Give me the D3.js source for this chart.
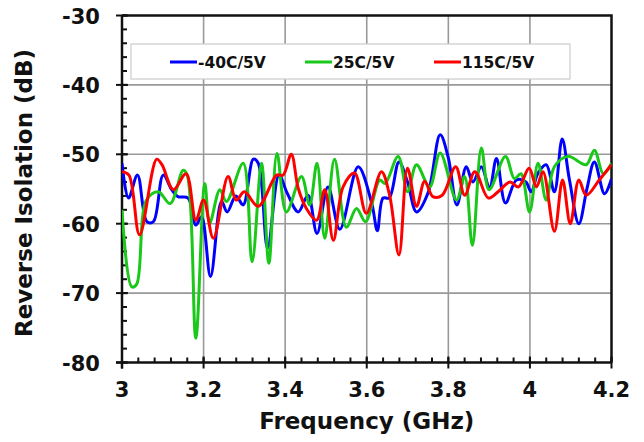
<!DOCTYPE html>
<html>
<head>
<meta charset="utf-8">
<script src="https://cdn.jsdelivr.net/npm/d3@7"></script>
<style>
  html, body { margin: 0; padding: 0; background: #fff; }
  svg { display: block; font-family: "DejaVu Sans", Verdana, sans-serif; font-weight: bold; }
</style>
</head>
<body>
<svg id="chart"></svg>
<script>
const width = 644;
const height = 442;

// series names and colours
const seriesNames = ["-40C/5V", "25C/5V", "115C/5V"];
const seriesColors = ["#0000ff", "#19c819", "#ff0000"];

// -40C/5V
const freqM40 = [3.000, 3.016, 3.038, 3.061, 3.077, 3.101, 3.122, 3.137, 3.162, 3.181, 3.195, 3.217, 3.244, 3.258, 3.279, 3.297, 3.322, 3.334, 3.357, 3.385, 3.405, 3.432, 3.456, 3.478, 3.505, 3.534, 3.579, 3.612, 3.626, 3.640, 3.655, 3.679, 3.700, 3.722, 3.750, 3.780, 3.800, 3.821, 3.844, 3.860, 3.881, 3.901, 3.918, 3.940, 3.967, 3.990, 4.003, 4.020, 4.040, 4.060, 4.079, 4.097, 4.120, 4.140, 4.158, 4.183, 4.200];
const dbM40 = [-51.3, -56.3, -53.0, -59.7, -59.7, -53.0, -55.1, -56.1, -56.3, -60.2, -59.0, -67.6, -56.8, -58.3, -56.0, -57.3, -50.7, -51.3, -63.5, -53.0, -55.6, -58.3, -55.9, -61.4, -54.7, -60.8, -51.8, -57.0, -61.0, -56.3, -56.3, -51.1, -54.0, -58.3, -55.6, -47.2, -50.5, -57.3, -51.8, -54.0, -51.8, -54.9, -50.6, -57.0, -53.7, -54.0, -55.4, -52.7, -51.5, -55.4, -47.8, -53.7, -60.0, -54.9, -51.1, -55.7, -53.5];

// 25C/5V
const freq25 = [3.000, 3.024, 3.036, 3.060, 3.089, 3.118, 3.150, 3.160, 3.181, 3.203, 3.215, 3.240, 3.256, 3.297, 3.319, 3.342, 3.360, 3.380, 3.403, 3.440, 3.460, 3.478, 3.497, 3.521, 3.550, 3.575, 3.597, 3.632, 3.645, 3.677, 3.700, 3.722, 3.754, 3.780, 3.820, 3.840, 3.859, 3.881, 3.900, 3.940, 3.962, 3.978, 3.999, 4.020, 4.040, 4.060, 4.093, 4.138, 4.158, 4.180, 4.200];
const db25 = [-58.0, -69.1, -68.7, -56.6, -55.4, -57.1, -52.3, -53.0, -76.5, -54.2, -59.9, -55.1, -56.8, -51.3, -65.5, -51.3, -65.7, -49.9, -58.3, -53.2, -57.3, -51.3, -62.1, -50.7, -60.5, -57.8, -59.7, -53.7, -54.2, -50.3, -55.4, -51.5, -54.7, -49.8, -56.6, -53.2, -63.1, -49.1, -55.1, -50.3, -53.5, -52.8, -58.3, -51.3, -56.6, -51.8, -50.3, -51.5, -49.4, -52.8, -51.3];

// 115C/5V
const freq115 = [3.000, 3.017, 3.043, 3.085, 3.098, 3.126, 3.157, 3.181, 3.200, 3.224, 3.260, 3.280, 3.300, 3.334, 3.379, 3.395, 3.415, 3.432, 3.452, 3.477, 3.497, 3.518, 3.542, 3.570, 3.599, 3.636, 3.656, 3.679, 3.700, 3.722, 3.742, 3.762, 3.785, 3.818, 3.840, 3.865, 3.898, 3.922, 3.951, 3.972, 3.998, 4.016, 4.032, 4.060, 4.080, 4.099, 4.120, 4.138, 4.170, 4.200];
const db115 = [-52.5, -53.0, -61.6, -50.7, -51.5, -55.1, -52.8, -59.5, -56.6, -62.1, -53.2, -56.6, -55.4, -57.5, -53.0, -53.0, -50.0, -54.9, -57.8, -59.5, -55.1, -62.4, -54.7, -52.7, -58.5, -52.5, -55.9, -64.5, -52.0, -57.5, -53.9, -56.1, -55.9, -51.8, -55.9, -52.5, -56.3, -55.4, -54.0, -54.7, -52.0, -54.7, -52.5, -61.1, -53.7, -60.0, -53.7, -55.9, -53.7, -51.5];

const xTicks = [3, 3.2, 3.4, 3.6, 3.8, 4, 4.2];
const yTicks = [-80, -70, -60, -50, -40, -30];

const margins = { top: 15.5, right: 32.5, bottom: 79.5, left: 122 };

const x = d3.scaleLinear()
  .domain([3, 4.2])
  .range([margins.left, width - margins.right]);

const y = d3.scaleLinear()
  .domain([-80, -30])
  .range([height - margins.bottom, margins.top]);

const svg = d3.select("#chart")
  .attr("width", width)
  .attr("height", height)
  .attr("viewBox", `0 0 ${width} ${height}`);

//* grid
const grid = svg.append("g").attr("stroke", "#999").attr("stroke-width", 1.6);
grid.selectAll(".gx").data(xTicks.slice(1, -1)).join("line")
  .attr("x1", d => x(d)).attr("x2", d => x(d))
  .attr("y1", y(-80)).attr("y2", y(-30));
grid.selectAll(".gy").data(yTicks.slice(1, -1)).join("line")
  .attr("x1", x(3)).attr("x2", x(4.2))
  .attr("y1", d => y(d)).attr("y2", d => y(d));

//* frame (top, right)
svg.append("path")
  .attr("d", `M${x(3)},${y(-30)}H${x(4.2)}V${y(-80)}`)
  .attr("fill", "none")
  .attr("stroke", "#111")
  .attr("stroke-width", 2.5);

//* axes with inward minor ticks
const xMinor = d3.range(3, 4.2001, 0.04);
const yMinor = d3.range(-80, -29.99, 2);

const xAxis = svg.append("g").attr("stroke", "#111").attr("stroke-width", 2);
xAxis.append("line")
  .attr("x1", x(3) - 6).attr("x2", x(4.2))
  .attr("y1", y(-80)).attr("y2", y(-80)).attr("stroke-width", 2.5);
xAxis.selectAll(".mn").data(xMinor).join("line")
  .attr("x1", d => x(d)).attr("x2", d => x(d))
  .attr("y1", y(-80)).attr("y2", y(-80) - 5);
xAxis.selectAll(".mj").data(xTicks).join("line")
  .attr("x1", d => x(d)).attr("x2", d => x(d))
  .attr("y1", y(-80) + 6).attr("y2", y(-80) - 6);

const yAxis = svg.append("g").attr("stroke", "#111").attr("stroke-width", 2);
yAxis.append("line")
  .attr("x1", x(3)).attr("x2", x(3))
  .attr("y1", y(-80) + 6).attr("y2", y(-30)).attr("stroke-width", 2.5);
yAxis.selectAll(".mn").data(yMinor).join("line")
  .attr("x1", x(3)).attr("x2", x(3) + 5)
  .attr("y1", d => y(d)).attr("y2", d => y(d));
yAxis.selectAll(".mj").data(yTicks).join("line")
  .attr("x1", x(3) - 6).attr("x2", x(3) + 6)
  .attr("y1", d => y(d)).attr("y2", d => y(d));

//* tick labels
svg.append("g")
  .attr("font-size", 21).attr("text-anchor", "middle").attr("fill", "#111")
  .selectAll("text").data(xTicks).join("text")
  .attr("x", d => x(d)).attr("y", y(-80) + 34)
  .text(d => d);

svg.append("g")
  .attr("font-size", 21).attr("text-anchor", "end").attr("fill", "#111")
  .selectAll("text").data(yTicks).join("text")
  .attr("x", x(3) - 22).attr("y", d => y(d) + 8)
  .text(d => d);

//* axis titles
svg.append("text")
  .attr("x", (x(3) + x(4.2)) / 2).attr("y", 429)
  .attr("text-anchor", "middle").attr("font-size", 23).attr("fill", "#111")
  .text("Frequency (GHz)");

svg.append("text")
  .attr("transform", `translate(32,${(y(-30) + y(-80)) / 2 + 4}) rotate(-90)`)
  .attr("text-anchor", "middle").attr("font-size", 23).attr("fill", "#111")
  .text("Reverse Isolation (dB)");

//* lines
const series = [
  { name: seriesNames[0], color: seriesColors[0], values: freqM40.map((f, i) => [f, dbM40[i]]) },
  { name: seriesNames[1], color: seriesColors[1], values: freq25.map((f, i) => [f, db25[i]]) },
  { name: seriesNames[2], color: seriesColors[2], values: freq115.map((f, i) => [f, db115[i]]) }
];

const line = d3.line()
  .x(d => x(d[0]))
  .y(d => y(d[1]))
  .curve(d3.curveCatmullRom.alpha(0.5));

svg.append("defs").append("clipPath").attr("id", "plotClip")
  .append("rect")
  .attr("x", x(3)).attr("y", y(-30))
  .attr("width", x(4.2) - x(3)).attr("height", y(-80) - y(-30));

svg.append("g").attr("clip-path", "url(#plotClip)")
  .selectAll("path").data(series).join("path")
  .attr("d", d => line(d.values))
  .attr("fill", "none")
  .attr("stroke", d => d.color)
  .attr("stroke-width", 3)
  .attr("stroke-linejoin", "round");

//* legend
const legend = svg.append("g");
legend.append("rect")
  .attr("x", 131).attr("y", 44).attr("width", 439).attr("height", 35)
  .attr("fill", "#fff").attr("stroke", "#ccc").attr("stroke-width", 1.2);

const legendX = [170, 305, 434];
const item = legend.selectAll(".item").data(series).join("g")
  .attr("transform", (d, i) => `translate(${legendX[i]},62)`);
item.append("line")
  .attr("x1", 0).attr("x2", 27).attr("y1", 0).attr("y2", 0)
  .attr("stroke", d => d.color).attr("stroke-width", 3);
item.append("text")
  .attr("x", 28).attr("y", 5.5)
  .attr("font-size", 15.5).attr("fill", "#111")
  .text(d => d.name);
</script>
</body>
</html>
